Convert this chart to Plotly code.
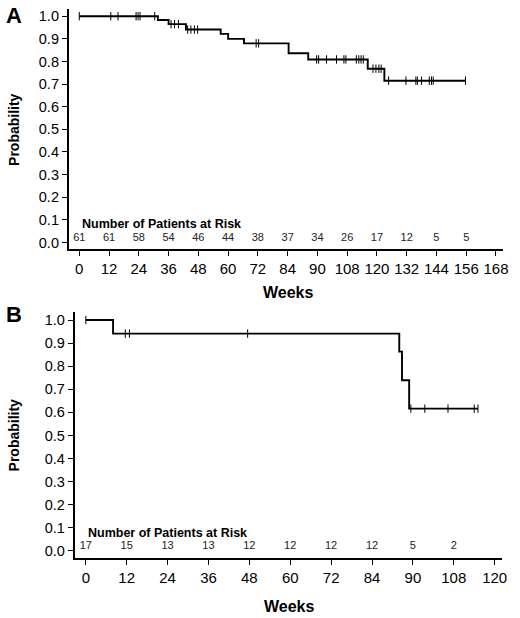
import plotly.graph_objects as go

# ---------------- Panel A data ----------------
a_event_weeks = [0, 31.7, 36.0, 43.0, 57.0, 60.0, 66.4, 84.4, 92.3, 116.3, 123.0, 155.7]
a_survival = [1.0, 0.983, 0.965, 0.941, 0.922, 0.900, 0.880, 0.836, 0.809, 0.768, 0.715, 0.715]
a_censor_weeks = [0, 12.7, 15.6, 22.9, 23.7, 24.5, 30.4, 37.0, 38.4, 40.0, 43.7, 45.0, 46.4, 47.7,
                  71.3, 72.3, 95.7, 96.5, 99.7, 103.7, 106.7, 107.5, 111.7, 112.7, 113.6, 114.5,
                  118.4, 119.6, 120.8, 121.7, 124.7, 131.7, 135.7, 136.3, 138.0, 141.1, 142.0,
                  142.7, 155.7]
a_tick_weeks = [0, 12, 24, 36, 48, 60, 72, 84, 96, 108, 120, 132, 144, 156, 168]
a_tick_labels = ["0", "12", "24", "36", "48", "60", "72", "84", "90", "108", "120", "132", "144", "156", "168"]
a_risk_weeks = [0, 12, 24, 36, 48, 60, 72, 84, 96, 108, 120, 132, 144, 156]
a_at_risk = [61, 61, 58, 54, 46, 44, 38, 37, 34, 26, 17, 12, 5, 5]

# ---------------- Panel B data ----------------
b_event_weeks = [0, 8.0, 92.0, 92.8, 94.9, 115.1]
b_survival = [1.0, 0.941, 0.863, 0.739, 0.616, 0.616]
b_censor_weeks = [0, 11.6, 12.8, 47.5, 95.4, 99.5, 106.3, 114.0, 115.1]
b_tick_weeks = [0, 12, 24, 36, 48, 60, 72, 84, 96, 108, 120]
b_tick_labels = ["0", "12", "24", "36", "48", "60", "72", "84", "90", "108", "120"]
b_risk_weeks = [0, 12, 24, 36, 48, 60, 72, 84, 96, 108]
b_at_risk = [17, 15, 13, 13, 12, 12, 12, 12, 5, 2]

y_ticks = [0.0, 0.1, 0.2, 0.3, 0.4, 0.5, 0.6, 0.7, 0.8, 0.9, 1.0]

FONT = "Liberation Sans, Arial, Helvetica, sans-serif"
W, H = 520, 618


def surv_at(t, times, surv):
    s = surv[0]
    for tt, ss in zip(times, surv):
        if tt <= t:
            s = ss
    return s


fig = go.Figure()

panels = [
    ("x", "y", a_event_weeks, a_survival, a_censor_weeks, a_risk_weeks, a_at_risk),
    ("x2", "y2", b_event_weeks, b_survival, b_censor_weeks, b_risk_weeks, b_at_risk),
]
for xa, ya, ev, sv, cw, rw, ar in panels:
    fig.add_trace(go.Scatter(x=ev, y=sv, mode="lines", line=dict(shape="hv", color="black", width=1.9),
                             xaxis=xa, yaxis=ya, showlegend=False, hoverinfo="skip"))
    fig.add_trace(go.Scatter(x=cw, y=[surv_at(t, ev, sv) for t in cw], mode="markers",
                             marker=dict(symbol="line-ns", size=6, line=dict(color="black", width=1)),
                             xaxis=xa, yaxis=ya, showlegend=False, hoverinfo="skip"))
    fig.add_trace(go.Scatter(x=rw, y=[0.018] * len(rw), mode="text", text=[str(v) for v in ar],
                             textfont=dict(family=FONT, size=11, color="#222"),
                             xaxis=xa, yaxis=ya, showlegend=False, hoverinfo="skip"))


def px_x(p):
    return p / W


def px_y(p):
    return 1 - p / H


axis_common = dict(showline=True, linecolor="black", linewidth=1.5, ticks="outside", ticklen=5,
                   tickwidth=1.2, tickcolor="black", showgrid=False, zeroline=False)
xfont = dict(family=FONT, size=15, color="black")
yfont = dict(family=FONT, size=14.5, color="black")

fig.update_layout(
    width=W, height=H, margin=dict(l=0, r=0, t=0, b=0),
    paper_bgcolor="white", plot_bgcolor="white",
    xaxis=dict(domain=[px_x(69.3), px_x(508.3)], range=[-4.3, 171.0], anchor="y",
               tickmode="array", tickvals=a_tick_weeks, ticktext=a_tick_labels,
               tickfont=xfont, **axis_common),
    yaxis=dict(domain=[px_y(249.3), px_y(8)], range=[-0.031, 1.032], anchor="x",
               tickmode="array", tickvals=y_ticks, tickformat=".1f", tickfont=yfont, **axis_common),
    xaxis2=dict(domain=[px_x(75.3), px_x(506.7)], range=[-3.3, 122.1], anchor="y2",
                tickmode="array", tickvals=b_tick_weeks, ticktext=b_tick_labels,
                tickfont=xfont, **axis_common),
    yaxis2=dict(domain=[px_y(559.3), px_y(311.7)], range=[-0.033, 1.036], anchor="x2",
                tickmode="array", tickvals=y_ticks, tickformat=".1f", tickfont=yfont, **axis_common),
)


def label(text, x, y, size, angle=0):
    return dict(text=text, x=px_x(x), y=px_y(y), xref="paper", yref="paper", xanchor="center",
                yanchor="middle", showarrow=False, textangle=angle,
                font=dict(family=FONT, size=size, color="black"))


ann = [
    label("<b>A</b>", 14, 15, 22),
    label("<b>B</b>", 14, 315, 22),
    label("<b>Probability</b>", 14, 128.5, 14, -90),
    label("<b>Probability</b>", 14, 435, 14, -90),
    label("<b>Weeks</b>", 291, 292, 16),
    label("<b>Weeks</b>", 292, 607, 16),
    dict(text="<b>Number of Patients at Risk</b>", x=0.4, y=0.081, xref="x", yref="y",
         xanchor="left", yanchor="middle", showarrow=False,
         font=dict(family=FONT, size=12.5, color="black")),
    dict(text="<b>Number of Patients at Risk</b>", x=0.2, y=0.079, xref="x2", yref="y2",
         xanchor="left", yanchor="middle", showarrow=False,
         font=dict(family=FONT, size=12.5, color="black")),
]
fig.update_layout(annotations=ann)

fig.write_html("out.html", config={"displayModeBar": False},
               post_script="document.body.style.margin='0';document.body.style.padding='0';"
                           "document.body.style.overflow='hidden';")
